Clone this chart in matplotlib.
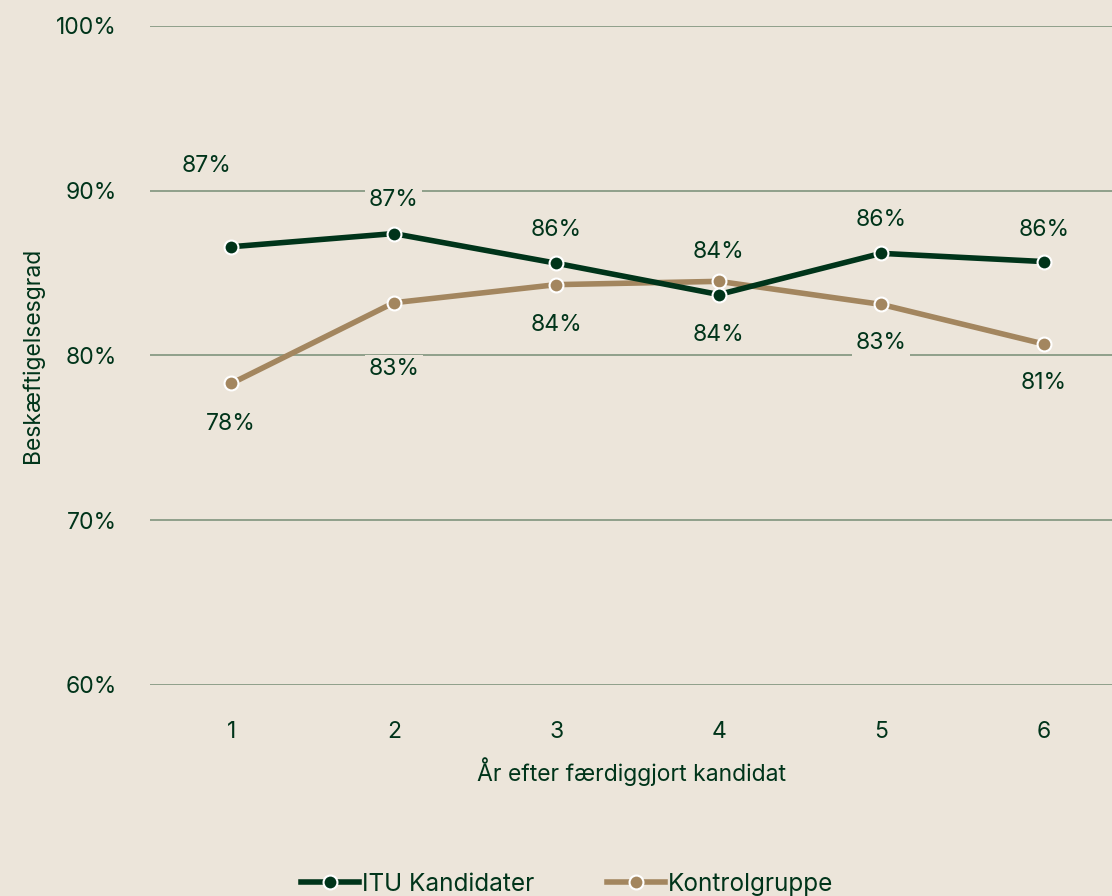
import matplotlib
matplotlib.use("Agg")
import matplotlib.pyplot as plt
from matplotlib.ticker import FuncFormatter

plt.rcParams["font.family"] = ["Inter", "DejaVu Sans"]

BG = "#ECE5DA"
GREEN = "#00341A"
TAN = "#A3865F"
GRID = "#8FA08A"

years = [1, 2, 3, 4, 5, 6]
itu = [86.6, 87.4, 85.6, 83.7, 86.2, 85.7]
kontrol = [78.3, 83.2, 84.3, 84.5, 83.1, 80.7]
itu_labels = ["87%", "87%", "86%", "84%", "86%", "86%"]
kontrol_labels = ["78%", "83%", "84%", "84%", "83%", "81%"]
# label offsets in points (dx, dy)
itu_offsets = [(-18, 58), (0, 24), (0, 24), (0, -29), (0, 24), (0, 23)]
kontrol_offsets = [(0, -29), (0, -48), (0, -29), (0, 21), (0, -28), (0, -28)]

fig = plt.figure(figsize=(11.12, 8.96), dpi=100, facecolor=BG)
ax = fig.add_axes([0.1349, 0.2355, 0.8651, 0.7355], facecolor=BG)

ax.plot(years, itu, color=GREEN, lw=4, marker="o", ms=10,
        mfc=GREEN, mec="white", mew=1.5, label="ITU Kandidater", zorder=4)
ax.plot(years, kontrol, color=TAN, lw=4, marker="o", ms=10,
        mfc=TAN, mec="white", mew=1.5, label="Kontrolgruppe", zorder=3)

box = dict(boxstyle="square,pad=0.15", fc=BG, ec="none")
for x, y, t, off in zip(years, itu, itu_labels, itu_offsets):
    ax.annotate(t, (x, y), xytext=off, textcoords="offset points",
                ha="center", va="center", fontsize=16.5, color=GREEN,
                bbox=box, zorder=5)
for x, y, t, off in zip(years, kontrol, kontrol_labels, kontrol_offsets):
    ax.annotate(t, (x, y), xytext=off, textcoords="offset points",
                ha="center", va="center", fontsize=16.5, color=GREEN,
                bbox=box, zorder=5)

ax.set_xlim(0.5, 6.42)
ax.set_ylim(60, 100)
ax.set_yticks([60, 70, 80, 90, 100])
ax.yaxis.set_major_formatter(FuncFormatter(lambda v, _: f"{v:.0f}%"))
ax.set_xticks(years)
ax.grid(axis="y", color=GRID, lw=1.4, zorder=0)
ax.tick_params(length=0, labelsize=16.5, labelcolor=GREEN)
ax.tick_params(axis="y", pad=24)
ax.tick_params(axis="x", pad=26)
for s in ax.spines.values():
    s.set_visible(False)

ax.set_xlabel("År efter færdiggjort kandidat", fontsize=16.5, color=GREEN,
              labelpad=10)
ax.set_ylabel("Beskæftigelsesgrad", fontsize=16.5, color=GREEN)
ax.yaxis.set_label_coords(-0.11, 0.5)

leg = fig.legend(loc="lower center", bbox_to_anchor=(0.51, -0.024), ncol=2,
                 frameon=False, fontsize=17.5, handlelength=2.4,
                 handletextpad=0.1, columnspacing=3.0)
for t in leg.get_texts():
    t.set_color(GREEN)

fig.savefig("out.png", dpi=100, facecolor=BG)
